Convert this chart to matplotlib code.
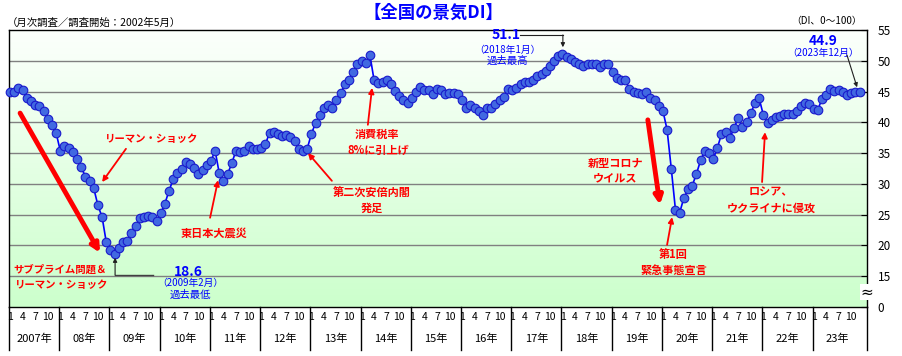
import numpy as np
import matplotlib
matplotlib.use("Agg")
import matplotlib.pyplot as plt
from matplotlib.colors import LinearSegmentedColormap
from matplotlib.transforms import blended_transform_factory

plt.rcParams['font.family'] = ['Noto Sans CJK JP', 'DejaVu Sans']

# monthly DI, Jan..Dec of each year
di_2007 = [44.9, 45.0, 45.5, 45.3, 43.9, 43.4, 42.8, 42.6, 41.9, 40.6, 39.5, 38.3]
di_2008 = [35.4, 36.2, 35.8, 35.1, 34.1, 32.7, 31.2, 30.4, 29.3, 26.5, 24.6, 20.5]
di_2009 = [19.3, 18.6, 19.6, 20.5, 20.7, 22.1, 23.1, 24.5, 24.7, 24.8, 24.7, 24.0]
di_2010 = [25.2, 26.8, 28.9, 30.8, 31.8, 32.4, 33.6, 33.2, 32.6, 31.6, 32.2, 33.0]
di_2011 = [33.7, 35.4, 31.7, 30.5, 31.6, 33.4, 35.4, 35.2, 35.4, 36.2, 35.7, 35.7]
di_2012 = [35.8, 36.4, 38.3, 38.5, 38.1, 37.7, 38.0, 37.6, 36.9, 35.7, 35.4, 35.7]
di_2013 = [38.1, 39.9, 41.2, 42.3, 42.8, 42.3, 43.7, 44.7, 46.2, 46.8, 48.2, 49.5]
di_2014 = [50.0, 49.6, 50.9, 46.8, 46.4, 46.5, 46.9, 46.2, 45.1, 44.2, 43.7, 43.1]
di_2015 = [43.9, 45.0, 45.7, 45.3, 45.3, 44.6, 45.4, 45.2, 44.6, 44.7, 44.7, 44.6]
di_2016 = [43.6, 42.3, 42.8, 42.3, 41.9, 41.2, 42.3, 42.3, 42.9, 43.6, 44.1, 45.4]
di_2017 = [45.2, 45.6, 46.2, 46.5, 46.6, 46.9, 47.5, 47.9, 48.4, 49.2, 49.9, 50.8]
di_2018 = [51.1, 50.6, 50.3, 49.8, 49.4, 49.1, 49.5, 49.5, 49.5, 49.0, 49.5, 49.4]
di_2019 = [48.1, 47.2, 46.9, 46.9, 45.4, 45.0, 44.7, 44.6, 45.0, 43.9, 43.6, 42.6]
di_2020 = [41.9, 38.8, 32.5, 25.8, 25.3, 27.7, 29.1, 29.7, 31.6, 33.8, 35.4, 35.0]
di_2021 = [34.0, 35.8, 38.1, 38.4, 37.4, 39.1, 40.7, 39.2, 40.0, 41.5, 43.1, 43.9]
di_2022 = [41.2, 39.9, 40.3, 40.8, 41.1, 41.3, 41.3, 41.4, 41.9, 42.6, 43.1, 43.0]
di_2023 = [42.1, 42.0, 43.8, 44.5, 45.4, 45.1, 45.3, 44.9, 44.5, 44.7, 44.9, 44.9]

year_labels = ["2007年", "08年", "09年", "10年", "11年", "12年", "13年", "14年", "15年",
               "16年", "17年", "18年", "19年", "20年", "21年", "22年", "23年"]
month_labels = ["1", "4", "7", "10"]
y_ticks = [10, 15, 20, 25, 30, 35, 40, 45, 50, 55]
y_tick_labels = ["0", "15", "20", "25", "30", "35", "40", "45", "50", "55"]

di = np.array(di_2007 + di_2008 + di_2009 + di_2010 + di_2011 + di_2012 + di_2013 +
              di_2014 + di_2015 + di_2016 + di_2017 + di_2018 + di_2019 + di_2020 +
              di_2021 + di_2022 + di_2023)
months = np.arange(len(di))

RED = "#ff0000"
BLUE = "#0000ff"
X0, X1 = -0.25, 204.7

fig = plt.figure(figsize=(9.02, 3.56), dpi=100)
ax = fig.add_axes([9 / 902, 1 - 307 / 356, (866.7 - 9) / 902, 277 / 356])
ax.set_xlim(X0, X1)
ax.set_ylim(10, 55)

# background gradient
grad = np.linspace(0, 1, 256).reshape(-1, 1)
cmap = LinearSegmentedColormap.from_list("bg", ["#fcfffc", "#ccffcc"])
ax.imshow(grad, extent=[X0, X1, 10, 55], origin="upper", aspect="auto", cmap=cmap, zorder=0)

for v in y_ticks[1:-1]:
    ax.axhline(v, color="#808080", lw=1, zorder=1)

ax.plot(months, di, color=BLUE, lw=1.2, marker="o", ms=6.2, mfc="#4169e1",
        mec="#1a1acc", mew=0.8, zorder=3, clip_on=False)

ax.yaxis.tick_right()
ax.set_yticks(y_ticks)
ax.set_yticklabels(y_tick_labels)
ax.tick_params(axis="y", direction="in", length=4, pad=8, labelsize=8.5)
ax.set_xticks([])
for s in ax.spines.values():
    s.set_color("black")
    s.set_linewidth(1)

# axis break mark
brk = blended_transform_factory(ax.transAxes, ax.transData)
ax.text(1.0, 12.4, "≈", transform=brk, ha="center", va="center", fontsize=11,
        family="DejaVu Sans", zorder=5,
        bbox=dict(boxstyle="square,pad=0.05", fc="white", ec="none"))

# month / year labels under the plot
trans = blended_transform_factory(ax.transData, ax.transAxes)
for k, yl in enumerate(year_labels):
    base = 12 * k
    for j, ml in zip([0, 3, 6, 9], month_labels):
        ax.text(base + j, -0.036, ml, transform=trans, ha="center", va="center",
                fontsize=7.5, clip_on=False)
    right = min(base + 11.75, X1)
    ax.text((base - 0.25 + right) / 2, -0.115, yl, transform=trans, ha="center",
            va="center", fontsize=8, clip_on=False)
    ax.plot([base - 0.25] * 2, [0, -0.155], transform=trans, color="black", lw=1,
            clip_on=False)
ax.plot([X1] * 2, [0, -0.155], transform=trans, color="black", lw=1, clip_on=False)

# titles
fig.text(433 / 902, 1 - 13 / 356, "【全国の景気DI】", ha="center", va="center",
         fontsize=12.5, fontweight="bold", color=BLUE)
fig.text(7 / 902, 1 - 23 / 356, "（月次調査／調査開始：2002年5月）", ha="left",
         va="center", fontsize=7.5)
fig.text(862 / 902, 1 - 21 / 356, "（DI、0～100）", ha="right", va="center", fontsize=7)


def red_text(x, y, s, size=8):
    ax.text(x, y, s, ha="center", va="center", color=RED, fontsize=size,
            fontweight="bold", zorder=6)


def arrow(tail, tip, lw=1.3, color=RED, scale=8):
    ax.annotate("", xy=tip, xytext=tail, zorder=6, annotation_clip=False,
                arrowprops=dict(arrowstyle="-|>", lw=lw, color=color,
                                mutation_scale=scale, shrinkA=0, shrinkB=0))


# events
red_text(33.9, 37.3, "リーマン・ショック", 7.5)
arrow((27.7, 35.7), (22.0, 30.3))
arrow((2.4, 41.5), (21.5, 18.8), lw=3.5, scale=12)
red_text(12.0, 16.0, "サブプライム問題＆", 7.5)
red_text(12.4, 13.6, "リーマン・ショック", 7.5)

red_text(48.7, 22.0, "東日本大震災")
arrow((47.8, 24.5), (49.7, 30.6))

red_text(86.5, 28.5, "第二次安倍内閣")
red_text(86.5, 26.1, "発足")
arrow((76.9, 30.5), (71.2, 35.0))

red_text(87.7, 38.0, "消費税率")
red_text(88.0, 35.5, "8%に引上げ")
arrow((85.5, 39.6), (86.5, 45.6))

red_text(144.6, 33.4, "新型コロナ")
red_text(144.6, 31.0, "ウイルス")
arrow((152.4, 40.4), (155.3, 26.6), lw=3.5, scale=12)

red_text(158.4, 18.5, "第1回")
red_text(158.6, 15.9, "緊急事態宣言")
arrow((157.0, 20.1), (158.2, 24.6))

red_text(181.8, 28.7, "ロシア、")
red_text(182.0, 26.1, "ウクライナに侵攻")
arrow((179.7, 30.3), (180.4, 38.4))

# record low
ax.plot([34.2, 25.1], [15.2, 15.2], color="#404040", lw=1, zorder=4)
arrow((25.1, 15.2), (25.1, 18.0), lw=0.8, color="#202020", scale=6)
ax.text(42.5, 15.7, "18.6", ha="center", va="center", color=BLUE, fontsize=10,
        fontweight="bold")
ax.text(43.0, 13.9, "（2009年2月）", ha="center", va="center", color=BLUE, fontsize=7)
ax.text(43.0, 12.0, "過去最低", ha="center", va="center", color=BLUE, fontsize=7.5)

# record high
ax.plot([121.9, 132.1], [54.2, 54.2], color="#202020", lw=0.8, zorder=4)
arrow((132.1, 54.2), (132.1, 52.2), lw=0.8, color="#202020", scale=6)
ax.text(118.5, 54.2, "51.1", ha="center", va="center", color=BLUE, fontsize=10,
        fontweight="bold")
ax.text(118.8, 51.8, "（2018年1月）", ha="center", va="center", color=BLUE, fontsize=7)
ax.text(118.8, 50.0, "過去最高", ha="center", va="center", color=BLUE, fontsize=7.5)

# latest
ax.text(194.3, 53.2, "44.9", ha="center", va="center", color=BLUE, fontsize=10,
        fontweight="bold")
ax.text(194.3, 51.3, "（2023年12月）", ha="center", va="center", color=BLUE, fontsize=7)
arrow((200.0, 50.9), (202.4, 45.7), lw=0.8, color="#202020", scale=6)

fig.savefig("out.png", dpi=100)
